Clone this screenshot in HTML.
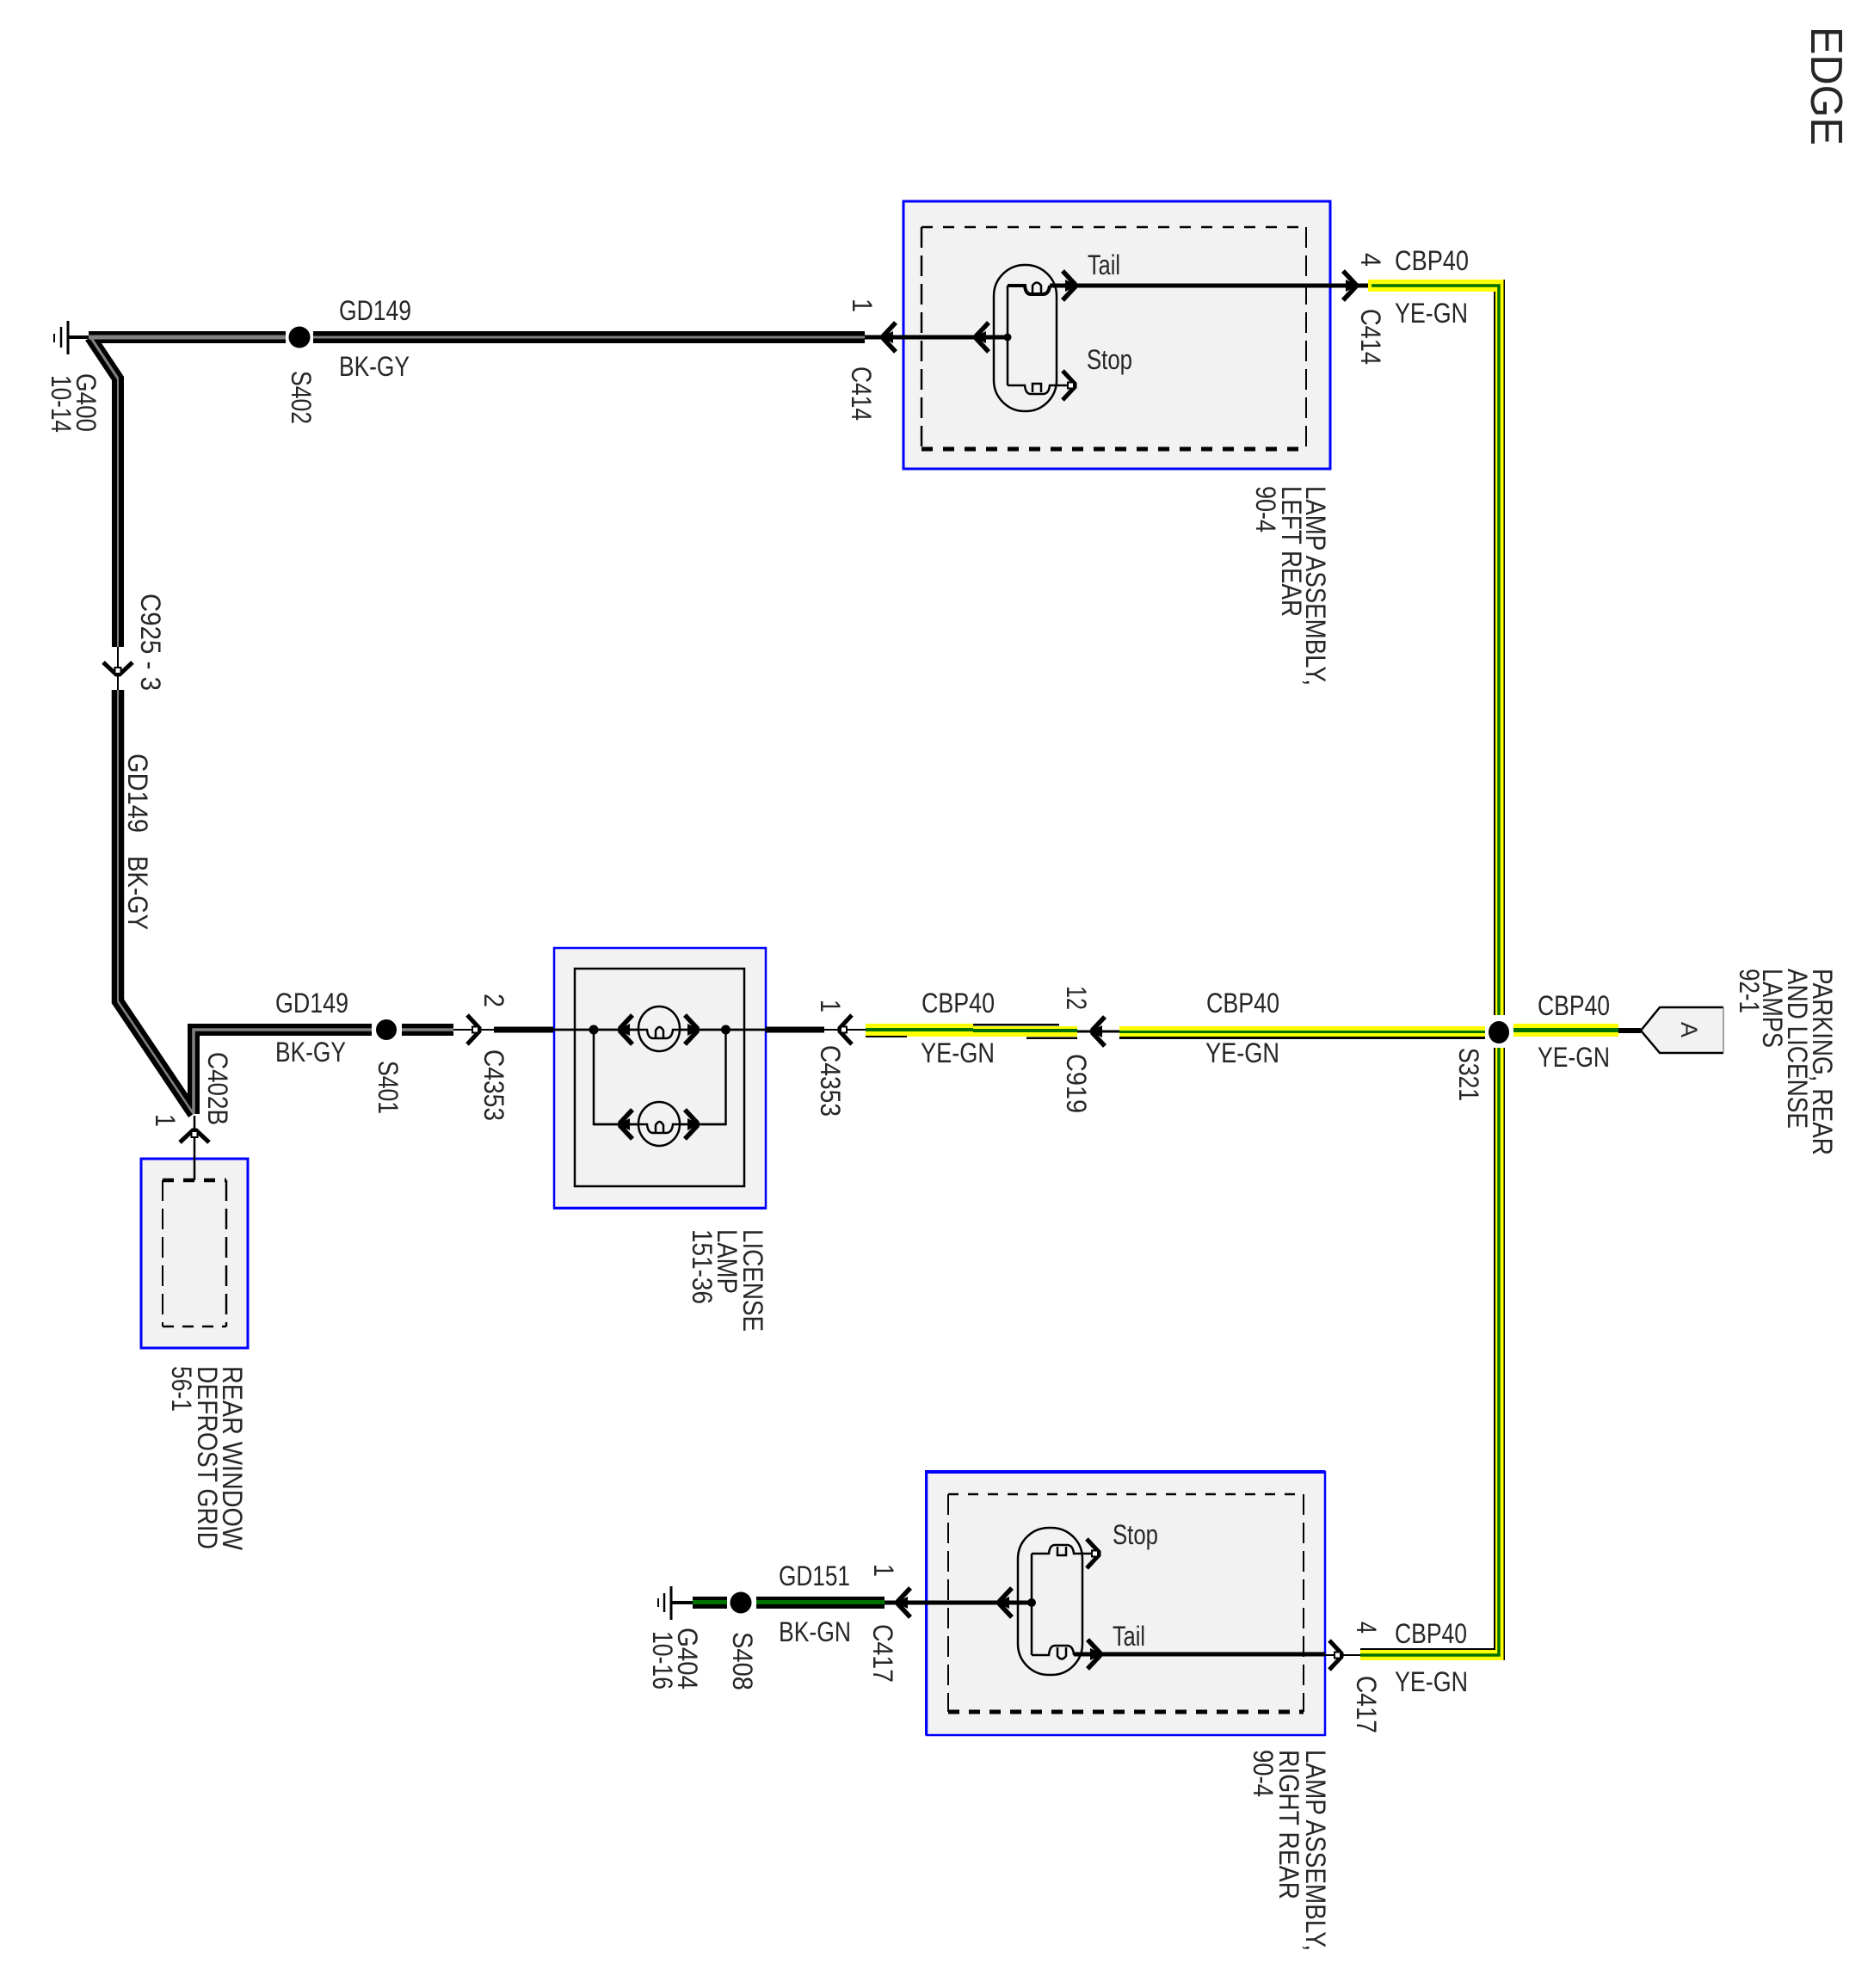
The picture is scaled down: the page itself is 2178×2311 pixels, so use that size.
<!DOCTYPE html>
<html><head><meta charset="utf-8"><style>
html,body{margin:0;padding:0;background:#fff}
svg{display:block}
text{font-family:"Liberation Sans",sans-serif;font-size:32px;fill:#262626}
</style></head><body>
<svg xmlns="http://www.w3.org/2000/svg" width="2178" height="2311" viewBox="0 0 2178 2311">
<defs>
<g id="ar"><path d="M-17,-17 L-3,-2 V2 L-17,17" fill="none" stroke="#000" stroke-width="5.5"/><path d="M0,0 L-14,-7 L-14,7Z" fill="#000"/></g>
<g id="ao"><path d="M-17,-17 L-3,-2 V2 L-17,17" fill="none" stroke="#000" stroke-width="5"/><rect x="-11" y="-3.5" width="7" height="7" fill="#fff" stroke="#000" stroke-width="2"/></g>
</defs>

<!-- boxes -->
<rect x="1050" y="234" width="496" height="311" fill="#f2f2f2" stroke="#00f" stroke-width="3"/>
<rect x="644" y="1102" width="246" height="302" fill="#f2f2f2" stroke="#00f" stroke-width="2.5"/>
<rect x="643" y="1403" width="248" height="3" fill="#00f"/>
<rect x="164" y="1347" width="124" height="220" fill="#f2f2f2" stroke="#00f" stroke-width="3"/>
<rect x="1077" y="1711" width="463" height="306" fill="#f2f2f2" stroke="#00f" stroke-width="2.5"/>
<rect x="1075" y="1709" width="465" height="4" fill="#00f"/>
<rect x="1075" y="1709" width="3" height="308" fill="#00f"/>
<path d="M1907,1198 L1929,1171 H2003 V1224 H1929 Z" fill="#f2f2f2"/>
<path d="M2003,1171 H1929 L1907,1198 L1929,1224 H2003" fill="none" stroke="#000" stroke-width="2.5"/>
<path d="M2003,1171 V1224" stroke="#888" stroke-width="1.5"/>

<!-- dashed -->
<g fill="none" stroke="#000">
<path d="M1071,264 H1518" stroke-width="2.5" stroke-dasharray="13 12"/>
<path d="M1071,264 V522" stroke-width="2.5" stroke-dasharray="24 9"/>
<path d="M1518,264 V522" stroke-width="2" stroke-dasharray="24 9"/>
<path d="M1071,522 H1518" stroke-width="5" stroke-dasharray="13 12"/>
<path d="M189,1372 H263" stroke-width="4.5" stroke-dasharray="13 11"/>
<path d="M189,1372 V1542" stroke-width="2" stroke-dasharray="24 9"/>
<path d="M263,1372 V1542" stroke-width="2.5" stroke-dasharray="24 9"/>
<path d="M189,1542 H263" stroke-width="2.5" stroke-dasharray="13 10"/>
<path d="M1102,1737 H1515" stroke-width="2.5" stroke-dasharray="12 11"/>
<path d="M1102,1737 V1990" stroke-width="2" stroke-dasharray="24 9"/>
<path d="M1515,1737 V1990" stroke-width="2" stroke-dasharray="24 9"/>
<path d="M1102,1990 H1515" stroke-width="5" stroke-dasharray="13 11"/>
<rect x="668" y="1126" width="197" height="253" stroke-width="2.5"/>
</g>

<!-- black-grey wires -->
<g fill="none" stroke="#000" stroke-linejoin="miter">
<path d="M103,392 H332" stroke-width="14"/>
<path d="M364,392 H1005" stroke-width="14"/>
<path d="M105,392 L137,440 V752" stroke-width="14"/>
<path d="M137,802 V1164 L225,1295" stroke-width="14.5"/>
<path d="M225,1295 V1197 H432" stroke-width="14"/>
<path d="M467,1197 H527" stroke-width="14"/>
</g>
<g fill="none" stroke="#808080">
<path d="M103,392 H332" stroke-width="5"/>
<path d="M364,392 H1005" stroke-width="3"/>
<path d="M106,393 L137,440" stroke-width="3"/>
<path d="M137,440 V752 M137,802 V1164" stroke="#aaa" stroke-width="1.5"/>
<path d="M137,1164 L225,1295" stroke-width="2.5"/>
<path d="M225,1295 V1197 H432 M467,1197 H527" stroke-width="3.5"/>
</g>

<!-- thin/medium black wires -->
<g fill="none" stroke="#000">
<path d="M80,392 H103" stroke-width="4"/>
<path d="M79,373 V412" stroke-width="3"/><path d="M71,380 V404" stroke-width="2.5"/><path d="M63,388 V398" stroke-width="2"/>
<path d="M137,752 V802" stroke-width="2"/>
<path d="M1005,392 H1171" stroke-width="5"/>
<path d="M1220,332 H1594" stroke-width="5"/>
<path d="M226,1297 V1372" stroke-width="2.5"/>
<path d="M527,1197 H574" stroke-width="2"/>
<path d="M574,1197 H643" stroke-width="7"/>
<path d="M643,1197 H890" stroke-width="2.5"/>
<path d="M890,1197 H958" stroke-width="7"/>
<path d="M958,1197 H1006" stroke-width="2"/>
<path d="M1252,1199 H1301" stroke-width="3"/>
<path d="M1881,1198 H1907" stroke-width="6"/>
<path d="M780,1863 H805" stroke-width="4"/>
<path d="M780,1844 V1883" stroke-width="3"/><path d="M772,1852 V1874" stroke-width="2.5"/><path d="M765,1858 V1868" stroke-width="2"/>
<path d="M1028,1863 H1199" stroke-width="5"/>
<path d="M1248,1923 H1540" stroke-width="5"/>
<path d="M1540,1924 H1581" stroke-width="2"/>
<!-- lamp circuits -->
<path d="M690,1197 V1307 H843.5 V1197" stroke-width="2.5"/>
</g>
<g fill="#000">
<circle cx="690" cy="1197" r="5.5"/><circle cx="843.5" cy="1197" r="5.5"/>
<circle cx="1171" cy="392" r="4.5"/><circle cx="1199" cy="1863" r="5"/>
</g>

<!-- left rear capsule -->
<g fill="none" stroke="#000" stroke-width="2.5">
<rect x="1155" y="308" width="73" height="170" rx="36" ry="36"/>
<path d="M1171,332 V448"/>
<path d="M1171,332 H1191 Q1192,342 1198,342 H1212 Q1219,342 1220,332" stroke-width="4"/>
<path d="M1171,448 H1191 Q1192,458 1198,458 H1212 Q1219,458 1220,448 H1250"/>
<path d="M1200,340 V332 Q1205,325 1210,332 V340" />
<path d="M1200,456 V446 H1210 V456" />
<!-- right rear capsule -->
<rect x="1183" y="1776" width="75" height="171" rx="36" ry="36"/>
<path d="M1199,1806 V1924"/>
<path d="M1199,1806 H1219 Q1220,1796 1226,1796 H1240 Q1247,1796 1248,1806 H1278"/>
<path d="M1199,1924 H1219 Q1220,1913 1226,1913 H1240 Q1247,1913 1248,1923 H1255"/>
<path d="M1229,1798 V1808 H1239 V1798"/>
<path d="M1229,1915 V1925 Q1234,1932 1239,1925 V1915"/>
<!-- license bulbs -->
<ellipse cx="766" cy="1196" rx="24" ry="26" fill="#f2f2f2"/>
<ellipse cx="766" cy="1306.5" rx="24" ry="25.5" fill="#f2f2f2"/>
<path d="M643,1197 H752 Q753,1207 759,1207 H774 Q781,1207 782,1197 H890"/>
<path d="M690,1307 H752 Q753,1317 759,1317 H774 Q781,1317 782,1307 H843.5"/>
<path d="M762,1206 V1198 Q766.500,1190 771,1198 V1206"/>
<path d="M762,1316 V1308 Q766.500,1300 771,1308 V1316"/>
</g>

<!-- yellow-green wires -->
<g>
<rect x="1006" y="1190" width="125" height="15" fill="#ff0"/>
<rect x="1131" y="1193" width="121" height="12" fill="#ff0"/>
<rect x="1006" y="1204" width="48" height="2" fill="#000"/>
<rect x="1131" y="1190" width="100" height="2.5" fill="#000"/>
<rect x="1193" y="1205.5" width="59" height="2.5" fill="#000"/>
<rect x="1006" y="1195" width="125" height="4" fill="#007000"/>
<rect x="1131" y="1196" width="121" height="4" fill="#007000"/>
<rect x="1301" y="1193" width="425" height="13" fill="#ff0"/>
<rect x="1301" y="1198" width="425" height="3" fill="#007000"/>
<rect x="1301" y="1205" width="425" height="3" fill="#000"/>
<rect x="1759" y="1190" width="122" height="15" fill="#ff0"/>
<rect x="1759" y="1195" width="122" height="5" fill="#007000"/>
<rect x="1590" y="325" width="159" height="14" fill="#ff0"/>
<rect x="1736" y="325" width="13" height="1605" fill="#ff0"/>
<rect x="1581" y="1918" width="168" height="12" fill="#ff0"/>
<rect x="1736" y="339" width="2" height="1577" fill="#000"/>
<rect x="1747.5" y="325" width="1.5" height="1605" fill="#000"/>
<rect x="1581" y="1916" width="157" height="2" fill="#000"/>
<path d="M1594,332 H1742 V1924 H1581" fill="none" stroke="#007000" stroke-width="3.500"/>
<!-- green-black -->
<rect x="805" y="1856" width="40" height="14" fill="#000"/>
<rect x="879" y="1856" width="149" height="14" fill="#000"/>
<rect x="805" y="1860" width="40" height="5" fill="#007000"/>
<rect x="879" y="1860" width="149" height="5" fill="#007000"/>
</g>

<!-- splices -->
<circle cx="348" cy="392" r="16" fill="#fff"/><circle cx="348" cy="392" r="12.5" fill="#000"/>
<circle cx="449" cy="1197" r="17" fill="#fff"/><circle cx="449" cy="1197" r="12" fill="#000"/>
<rect x="1728" y="1180" width="28" height="38" fill="#fff"/><ellipse cx="1742" cy="1200" rx="12" ry="13" fill="#000"/>
<circle cx="861" cy="1863" r="12.5" fill="#000"/>

<!-- arrows -->
<use href="#ar" transform="translate(1024,392) rotate(180)"/>
<use href="#ar" transform="translate(1132,392) rotate(180)"/>
<use href="#ar" transform="translate(1252,332)"/>
<use href="#ao" transform="translate(1252,448)"/>
<use href="#ar" transform="translate(1578,332)"/>
<use href="#ao" transform="translate(137,787) rotate(90)"/>
<use href="#ao" transform="translate(226,1311) rotate(-90)"/>
<use href="#ao" transform="translate(560,1197)"/>
<use href="#ar" transform="translate(718,1197) rotate(180)"/>
<use href="#ar" transform="translate(813,1197)"/>
<use href="#ar" transform="translate(718,1307) rotate(180)"/>
<use href="#ar" transform="translate(813,1307)"/>
<use href="#ao" transform="translate(973,1197) rotate(180)"/>
<use href="#ar" transform="translate(1267,1199) rotate(180)"/>
<use href="#ar" transform="translate(1041,1863) rotate(180)"/>
<use href="#ar" transform="translate(1159,1863) rotate(180)"/>
<use href="#ao" transform="translate(1280,1806)"/>
<use href="#ar" transform="translate(1281,1923)"/>
<use href="#ao" transform="translate(1562,1924)"/>

<!-- horizontal labels -->
<g>
<text x="394" y="372" textLength="84" lengthAdjust="spacingAndGlyphs">GD149</text>
<text x="394" y="437" textLength="82" lengthAdjust="spacingAndGlyphs">BK-GY</text>
<text x="1264" y="319" textLength="38" lengthAdjust="spacingAndGlyphs">Tail</text>
<text x="1263" y="429" textLength="53" lengthAdjust="spacingAndGlyphs">Stop</text>
<text x="1621" y="314" textLength="86" lengthAdjust="spacingAndGlyphs">CBP40</text>
<text x="1621" y="375" textLength="85" lengthAdjust="spacingAndGlyphs">YE-GN</text>
<text x="320" y="1177" textLength="85" lengthAdjust="spacingAndGlyphs">GD149</text>
<text x="320" y="1234" textLength="82" lengthAdjust="spacingAndGlyphs">BK-GY</text>
<text x="1071" y="1177" textLength="85" lengthAdjust="spacingAndGlyphs">CBP40</text>
<text x="1070" y="1235" textLength="86" lengthAdjust="spacingAndGlyphs">YE-GN</text>
<text x="1402" y="1177" textLength="85" lengthAdjust="spacingAndGlyphs">CBP40</text>
<text x="1401" y="1235" textLength="86" lengthAdjust="spacingAndGlyphs">YE-GN</text>
<text x="1787" y="1180" textLength="84" lengthAdjust="spacingAndGlyphs">CBP40</text>
<text x="1787" y="1240" textLength="84" lengthAdjust="spacingAndGlyphs">YE-GN</text>
<text x="905" y="1843" textLength="83" lengthAdjust="spacingAndGlyphs">GD151</text>
<text x="905" y="1908" textLength="84" lengthAdjust="spacingAndGlyphs">BK-GN</text>
<text x="1293" y="1795" textLength="53" lengthAdjust="spacingAndGlyphs">Stop</text>
<text x="1293" y="1913" textLength="38" lengthAdjust="spacingAndGlyphs">Tail</text>
<text x="1621" y="1910" textLength="84" lengthAdjust="spacingAndGlyphs">CBP40</text>
<text x="1621" y="1966" textLength="85" lengthAdjust="spacingAndGlyphs">YE-GN</text>
</g>

<!-- rotated labels -->
<g>
<text transform="translate(2105,31) rotate(90)" textLength="138" lengthAdjust="spacingAndGlyphs" style="font-size:52px">EDGE</text>
<text transform="translate(339,431) rotate(90)" textLength="62" lengthAdjust="spacingAndGlyphs">S402</text>
<text transform="translate(89,434) rotate(90)" textLength="68" lengthAdjust="spacingAndGlyphs">G400</text>
<text transform="translate(60,436) rotate(90)" textLength="67" lengthAdjust="spacingAndGlyphs">10-14</text>
<text transform="translate(164,690) rotate(90)" textLength="113" lengthAdjust="spacingAndGlyphs">C925 - 3</text>
<text transform="translate(149,876) rotate(90)" textLength="92" lengthAdjust="spacingAndGlyphs">GD149</text>
<text transform="translate(149,995) rotate(90)" textLength="86" lengthAdjust="spacingAndGlyphs">BK-GY</text>
<text transform="translate(991,347) rotate(90)" textLength="16" lengthAdjust="spacingAndGlyphs">1</text>
<text transform="translate(990,426) rotate(90)" textLength="63" lengthAdjust="spacingAndGlyphs">C414</text>
<text transform="translate(1582,294) rotate(90)" textLength="16" lengthAdjust="spacingAndGlyphs">4</text>
<text transform="translate(1582,359) rotate(90)" textLength="65" lengthAdjust="spacingAndGlyphs">C414</text>
<text transform="translate(1518,565) rotate(90)" textLength="232" lengthAdjust="spacingAndGlyphs">LAMP ASSEMBLY,</text>
<text transform="translate(1490,565) rotate(90)" textLength="152" lengthAdjust="spacingAndGlyphs">LEFT REAR</text>
<text transform="translate(1460,565) rotate(90)" textLength="54" lengthAdjust="spacingAndGlyphs">90-4</text>
<text transform="translate(242,1223) rotate(90)" textLength="85" lengthAdjust="spacingAndGlyphs">C402B</text>
<text transform="translate(181,1295) rotate(90)" textLength="15" lengthAdjust="spacingAndGlyphs">1</text>
<text transform="translate(440,1233) rotate(90)" textLength="62" lengthAdjust="spacingAndGlyphs">S401</text>
<text transform="translate(563,1155) rotate(90)" textLength="16" lengthAdjust="spacingAndGlyphs">2</text>
<text transform="translate(563,1220) rotate(90)" textLength="83" lengthAdjust="spacingAndGlyphs">C4353</text>
<text transform="translate(259,1588) rotate(90)" textLength="214" lengthAdjust="spacingAndGlyphs">REAR WINDOW</text>
<text transform="translate(230,1588) rotate(90)" textLength="213" lengthAdjust="spacingAndGlyphs">DEFROST GRID</text>
<text transform="translate(200,1588) rotate(90)" textLength="53" lengthAdjust="spacingAndGlyphs">56-1</text>
<text transform="translate(864,1429) rotate(90)" textLength="119" lengthAdjust="spacingAndGlyphs">LICENSE</text>
<text transform="translate(834,1429) rotate(90)" textLength="75" lengthAdjust="spacingAndGlyphs">LAMP</text>
<text transform="translate(805,1429) rotate(90)" textLength="87" lengthAdjust="spacingAndGlyphs">151-36</text>
<text transform="translate(954,1162) rotate(90)" textLength="15" lengthAdjust="spacingAndGlyphs">1</text>
<text transform="translate(954,1215) rotate(90)" textLength="83" lengthAdjust="spacingAndGlyphs">C4353</text>
<text transform="translate(1240,1146) rotate(90)" textLength="28" lengthAdjust="spacingAndGlyphs">12</text>
<text transform="translate(1240,1225) rotate(90)" textLength="69" lengthAdjust="spacingAndGlyphs">C919</text>
<text transform="translate(1696,1218) rotate(90)" textLength="62" lengthAdjust="spacingAndGlyphs">S321</text>
<text transform="translate(1954,1188) rotate(90)" textLength="18" lengthAdjust="spacingAndGlyphs" style="font-size:27px">A</text>
<text transform="translate(2107,1126) rotate(90)" textLength="217" lengthAdjust="spacingAndGlyphs">PARKING, REAR</text>
<text transform="translate(2078,1126) rotate(90)" textLength="186" lengthAdjust="spacingAndGlyphs">AND LICENSE</text>
<text transform="translate(2049,1126) rotate(90)" textLength="92" lengthAdjust="spacingAndGlyphs">LAMPS</text>
<text transform="translate(2022,1126) rotate(90)" textLength="52" lengthAdjust="spacingAndGlyphs">92-1</text>
<text transform="translate(1016,1818) rotate(90)" textLength="15" lengthAdjust="spacingAndGlyphs">1</text>
<text transform="translate(1015,1888) rotate(90)" textLength="68" lengthAdjust="spacingAndGlyphs">C417</text>
<text transform="translate(852,1897) rotate(90)" textLength="68" lengthAdjust="spacingAndGlyphs">S408</text>
<text transform="translate(788,1892) rotate(90)" textLength="72" lengthAdjust="spacingAndGlyphs">G404</text>
<text transform="translate(759,1896) rotate(90)" textLength="68" lengthAdjust="spacingAndGlyphs">10-16</text>
<text transform="translate(1577,1885) rotate(90)" textLength="14" lengthAdjust="spacingAndGlyphs">4</text>
<text transform="translate(1577,1948) rotate(90)" textLength="67" lengthAdjust="spacingAndGlyphs">C417</text>
<text transform="translate(1518,2034) rotate(90)" textLength="234" lengthAdjust="spacingAndGlyphs">LAMP ASSEMBLY,</text>
<text transform="translate(1487,2034) rotate(90)" textLength="174" lengthAdjust="spacingAndGlyphs">RIGHT REAR</text>
<text transform="translate(1457,2034) rotate(90)" textLength="55" lengthAdjust="spacingAndGlyphs">90-4</text>
</g>
</svg>
</body></html>
